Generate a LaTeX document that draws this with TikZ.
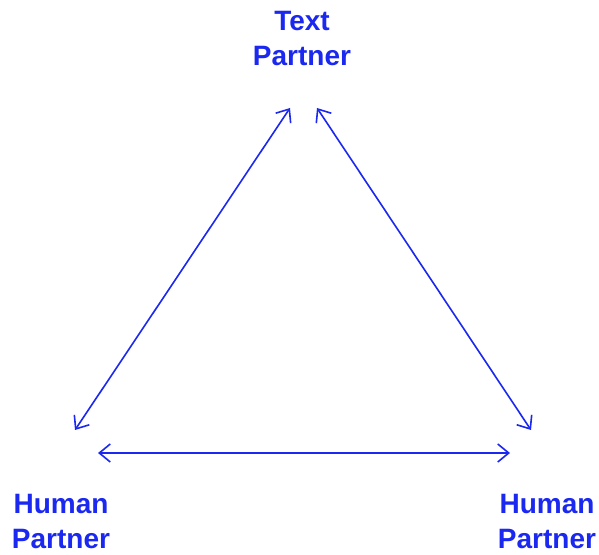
\documentclass[tikz,border=0pt]{standalone}
\usepackage{fontspec}
\setmainfont{Liberation Sans}
\usetikzlibrary{arrows.meta}
\definecolor{ink}{RGB}{26,40,240}
\begin{document}
\begin{tikzpicture}[x=1pt,y=1pt,
  label/.style={text=ink,align=center,inner sep=0pt,
    font=\fontsize{28}{35}\selectfont\bfseries},
  link/.style={draw=ink,line width=1.6pt,
    {Straight Barb[length=11pt,width=18pt]}-{Straight Barb[length=11pt,width=18pt]}}]
\useasboundingbox (0,0) rectangle (599,554);
\node[label] (top) at (302,515) {Text\\Partner};
\node[label] (left) at (61,32) {Human\\Partner};
\node[label] (right) at (547,32) {Human\\Partner};
\coordinate (tl) at (290,446);
\coordinate (tr) at (317,446);
\coordinate (lt) at (75,124);
\coordinate (rt) at (531,124);
\coordinate (lb) at (98,101);
\coordinate (rb) at (510,101);
\draw[link] (lt) -- (tl);
\draw[link] (rt) -- (tr);
\draw[link] (lb) -- (rb);
\end{tikzpicture}
\end{document}
